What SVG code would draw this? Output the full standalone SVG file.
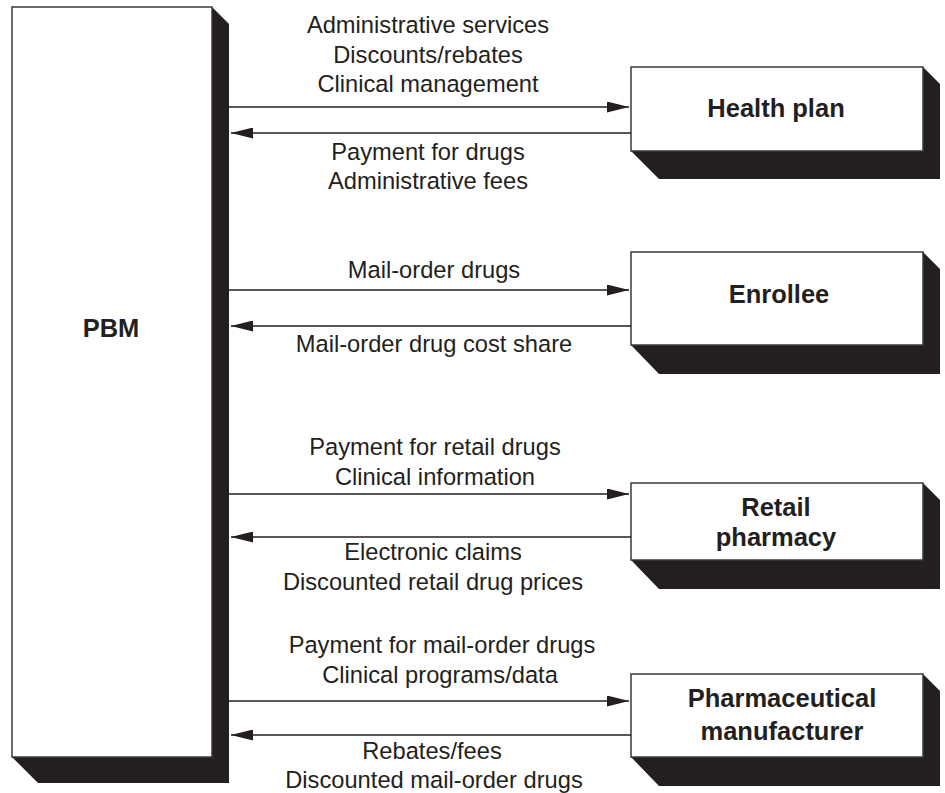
<svg xmlns="http://www.w3.org/2000/svg" width="945" height="793" viewBox="0 0 945 793">
<style>
.box{fill:#fff;stroke:#3a3a3a;stroke-width:1.5}
.sh{fill:#231f20}
.lbl{font-family:"Liberation Sans",Arial,sans-serif;font-size:23.7px;fill:#231f20;text-anchor:middle}
.node{font-family:"Liberation Sans",Arial,sans-serif;font-size:25.5px;font-weight:bold;fill:#231f20;text-anchor:middle}
.con{stroke:#231f20;stroke-width:1.6;fill:none;marker-end:url(#ah)}
</style>
<defs>
<marker id="ah" markerUnits="userSpaceOnUse" markerWidth="22" markerHeight="11" refX="22" refY="5.5" orient="auto">
<path d="M0,0 L22,5.5 L0,11 z" fill="#231f20"/>
</marker>
</defs>
<rect width="945" height="793" fill="#fff"/>
<g id="pbm">
<polygon class="sh" points="212,7 229,24 229,783 38,783 12,757 212,757"/>
<rect class="box" x="12" y="7" width="200" height="750"/>
<text class="node" x="111" y="337">PBM</text>
</g>
<g id="health-plan">
<polygon class="sh" points="923,67 940,84 940,179 659,179 631,151 923,151"/>
<rect class="box" x="631" y="67" width="292" height="84"/>
<text class="node" x="776" y="117">Health plan</text>
</g>
<g id="enrollee">
<polygon class="sh" points="923,252 940,269 940,374 659,374 631,345 923,345"/>
<rect class="box" x="631" y="252" width="292" height="93"/>
<text class="node" x="779" y="303">Enrollee</text>
</g>
<g id="retail-pharmacy">
<polygon class="sh" points="923,483 940,500 940,589 659,589 631,560 923,560"/>
<rect class="box" x="631" y="483" width="292" height="77"/>
<text class="node" x="776" y="516">Retail</text>
<text class="node" x="776" y="546">pharmacy</text>
</g>
<g id="pharmaceutical-manufacturer">
<polygon class="sh" points="923,674 940,691 940,786 659,786 631,757 923,757"/>
<rect class="box" x="631" y="674" width="292" height="83"/>
<text class="node" x="782" y="707">Pharmaceutical</text>
<text class="node" x="782" y="740">manufacturer</text>
</g>
<g id="connectors">
<line class="con" x1="229" y1="107" x2="629" y2="107"/>
<line class="con" x1="631" y1="133" x2="231" y2="133"/>
<line class="con" x1="229" y1="290" x2="629" y2="290"/>
<line class="con" x1="631" y1="326" x2="231" y2="326"/>
<line class="con" x1="229" y1="494" x2="629" y2="494"/>
<line class="con" x1="631" y1="537" x2="231" y2="537"/>
<line class="con" x1="229" y1="701" x2="629" y2="701"/>
<line class="con" x1="631" y1="735" x2="231" y2="735"/>
</g>
<g id="labels">
<text class="lbl" x="428" y="33">Administrative services</text>
<text class="lbl" x="428" y="63">Discounts/rebates</text>
<text class="lbl" x="428" y="92">Clinical management</text>
<text class="lbl" x="428" y="160">Payment for drugs</text>
<text class="lbl" x="428" y="189">Administrative fees</text>
<text class="lbl" x="434" y="278">Mail-order drugs</text>
<text class="lbl" x="434" y="352">Mail-order drug cost share</text>
<text class="lbl" x="435" y="455">Payment for retail drugs</text>
<text class="lbl" x="435" y="485">Clinical information</text>
<text class="lbl" x="433" y="560">Electronic claims</text>
<text class="lbl" x="433" y="590">Discounted retail drug prices</text>
<text class="lbl" x="442" y="653">Payment for mail-order drugs</text>
<text class="lbl" x="440" y="683">Clinical programs/data</text>
<text class="lbl" x="432" y="759">Rebates/fees</text>
<text class="lbl" x="434" y="788">Discounted mail-order drugs</text>
</g>
</svg>
